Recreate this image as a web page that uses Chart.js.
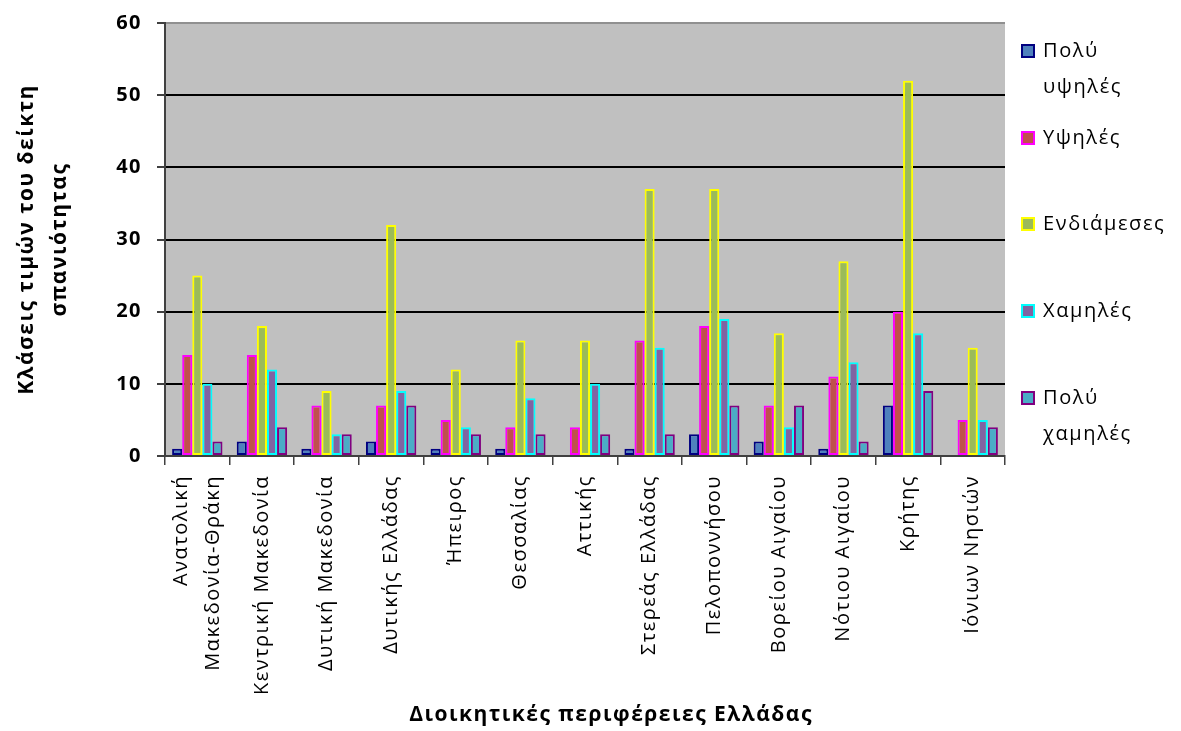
<!DOCTYPE html>
<html>
<head>
<meta charset="utf-8">
<script src="https://cdn.jsdelivr.net/npm/chart.js@4"></script>
<style>
  body { margin: 0; background: #fff; }
  #wrap { position: relative; width: 1181px; height: 731px; }
  #legend { position: absolute; left: 1021px; top: 0; font-family: "Open Sans", sans-serif; font-size: 20px; letter-spacing: 1.6px; color: #000; }
  .item { position: absolute; left: 0; white-space: nowrap; line-height: 36px; }
  .box { position: absolute; left: 0; top: 12px; width: 10px; height: 10px; border: 2px solid; }
  .txt { position: absolute; left: 22px; top: 0; }
</style>
</head>
<body>
<div id="wrap">
  <canvas id="chart" width="1181" height="731"></canvas>
  <div id="legend"></div>
</div>
<script>
// regions (x axis)
const regions = [
  ['Ανατολική', 'Μακεδονία-Θράκη'],
  'Κεντρική Μακεδονία',
  'Δυτική Μακεδονία',
  'Δυτικής Ελλάδας',
  'Ήπειρος',
  'Θεσσαλίας',
  'Αττικής',
  'Στερεάς Ελλάδας',
  'Πελοποννήσου',
  'Βορείου Αιγαίου',
  'Νότιου Αιγαίου',
  'Κρήτης',
  'Ιόνιων Νησιών'
];

const seriesNames = ['Πολύ υψηλές', 'Υψηλές', 'Ενδιάμεσες', 'Χαμηλές', 'Πολύ χαμηλές'];

const veryHigh = [1, 2, 1, 2, 1, 1, 0, 1, 3, 2, 1, 7, 0];
const high     = [14, 14, 7, 7, 5, 4, 4, 16, 18, 7, 11, 20, 5];
const medium   = [25, 18, 9, 32, 12, 16, 16, 37, 37, 17, 27, 52, 15];
const low      = [10, 12, 3, 9, 4, 8, 10, 15, 19, 4, 13, 17, 5];
const veryLow  = [2, 4, 3, 7, 3, 3, 3, 3, 7, 7, 2, 9, 4];

const yTicks = [0, 10, 20, 30, 40, 50, 60];
const xTitle = 'Διοικητικές περιφέρειες Ελλάδας';

const fills   = ['#4F81BD', '#C0504D', '#9BBB59', '#8064A2', '#4BACC6'];
const borders = ['#000080', '#FF00FF', '#FFFF00', '#00FFFF', '#800080'];

const seriesData = [veryHigh, high, medium, low, veryLow];

const datasets = seriesData.map((d, i) => ({
  label: seriesNames[i],
  data: d,
  backgroundColor: fills[i],
  borderColor: borders[i],
  borderWidth: 2,
  borderSkipped: false,
  categoryPercentage: 0.78,
  barPercentage: 1.0
}));

const baseFont = '"Open Sans", sans-serif';
const tickLineH = 32;

// grey plot area, letter spacing, centred two-line first label, x title
const extras = {
  id: 'extras',
  beforeDraw(chart) {
    const { ctx, chartArea: a } = chart;
    ctx.letterSpacing = '1.5px';
    ctx.save();
    ctx.fillStyle = '#C0C0C0';
    ctx.fillRect(a.left, a.top, a.right - a.left, a.bottom - a.top);
    ctx.restore();
    // Chart.js puts the first line of a rotated multi-line label on the tick; centre it instead
    const items = chart.scales.x.getLabelItems();
    items.forEach(it => {
      if (Array.isArray(it.label) && !it._shifted) {
        it.options.translation[0] -= (it.label.length - 1) * tickLineH / 2;
        it._shifted = true;
      }
    });
  },
  afterDraw(chart) {
    const { ctx, chartArea: a } = chart;
    ctx.save();
    ctx.font = 'bold 21px ' + baseFont;
    ctx.fillStyle = '#000';
    ctx.textAlign = 'center';
    ctx.textBaseline = 'middle';
    ctx.fillText(xTitle, (a.left + a.right) / 2 + 26, 715);
    ctx.restore();
    ctx.letterSpacing = '0px';
  }
};

new Chart(document.getElementById('chart'), {
  type: 'bar',
  data: { labels: regions, datasets: datasets },
  plugins: [extras],
  options: {
    responsive: false,
    animation: false,
    layout: { padding: { left: 0, right: 176, top: 23, bottom: 0 } },
    plugins: { legend: { display: false }, tooltip: { enabled: false } },
    scales: {
      x: {
        afterFit: s => { s.height = 275; s.paddingLeft = 0; s.paddingRight = 0; },
        grid: { offset: true, drawOnChartArea: false, color: '#404040', tickLength: 9, lineWidth: 1.5 },
        border: { color: '#404040', width: 2 },
        ticks: {
          color: '#000',
          font: { family: baseFont, size: 20, lineHeight: tickLineH / 20 },
          maxRotation: 90, minRotation: 90,
          padding: 10,
          autoSkip: false
        }
      },
      y: {
        min: 0, max: 60,
        afterFit: s => { s.width = 165; s.paddingTop = 0; s.paddingBottom = 0; },
        afterBuildTicks: s => { s.ticks = yTicks.map(v => ({ value: v })); },
        grid: {
          color: c => c.tick && c.tick.value === 60 ? '#909090' : '#000',
          lineWidth: 2,
          tickLength: 8,
          tickColor: '#404040'
        },
        border: { color: '#404040', width: 2 },
        ticks: {
          color: '#000',
          font: { family: baseFont, size: 20, weight: 'bold' },
          padding: 15
        },
        title: {
          display: true,
          text: ['Κλάσεις τιμών του δείκτη', 'σπανιότητας'],
          color: '#000',
          font: { family: baseFont, size: 21, weight: 'bold', lineHeight: 1.55 },
          padding: { top: 11, bottom: 0 }
        }
      }
    }
  }
});

// legend on the right
const legendLines = [['Πολύ', 'υψηλές'], ['Υψηλές'], ['Ενδιάμεσες'], ['Χαμηλές'], ['Πολύ', 'χαμηλές']];
const legendTops = [32, 119, 205, 292, 379];
const legend = document.getElementById('legend');
legendLines.forEach((lines, i) => {
  const item = document.createElement('div');
  item.className = 'item';
  item.style.top = legendTops[i] + 'px';
  const box = document.createElement('div');
  box.className = 'box';
  box.style.background = fills[i];
  box.style.borderColor = borders[i];
  const txt = document.createElement('div');
  txt.className = 'txt';
  txt.innerHTML = lines.join('<br>');
  item.appendChild(box);
  item.appendChild(txt);
  legend.appendChild(item);
});
</script>
</body>
</html>
